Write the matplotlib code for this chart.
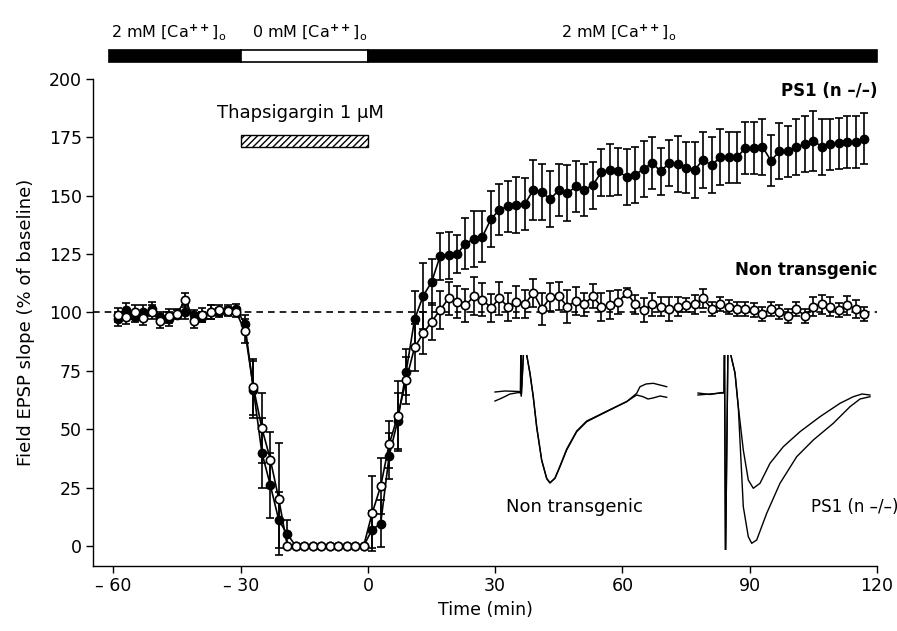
import matplotlib
matplotlib.use("Agg")
import matplotlib.pyplot as plt
import numpy as np
from matplotlib.patches import Rectangle

plt.rcParams["font.family"] = ["DejaVu Sans"]
plt.rcParams["mathtext.fontset"] = "dejavusans"

# sampling times (min), one point every 2 min
time = np.arange(-59, 118, 2)

# PS1 (n -/-) : filled circles
ps1 = [97, 101, 98, 100, 101.5, 98, 97, 99, 100, 99, 98, 100, 100, 101, 101.5,
       95, 67, 40, 26, 11, 5,
       0, 0, 0, 0, 0, 0, 0, 0, 0,
       7, 9.5, 38.5, 53.5, 74.5,
       97, 107, 113, 124, 124.5, 125, 129.5, 131.5, 132.5, 140, 144, 145.5, 146,
       146.5, 152.5, 151.5, 148.5, 152.5, 151, 154, 152.5, 154.5, 160, 161, 160.5,
       158, 159,
       161.5, 164, 160.5, 164, 163.5, 162, 161, 165.5, 163, 166.5, 166.5, 166.5,
       170.5, 170.5, 171, 165, 169, 169, 171, 172, 173.5, 171, 172, 172.5, 173,
       173, 174.5]
ps1_err = [3, 3, 2, 3, 3, 2, 3, 2, 3, 2, 2, 3, 2, 2, 2,
           4, 12, 15, 14, 12, 6,
           0, 0, 0, 0, 0, 0, 0, 0, 0,
           8, 10, 10, 12, 10,
           12, 14, 10, 10, 10, 8, 11, 12, 11, 12, 11, 11, 12, 11, 13, 12, 12,
           11, 12, 11, 11, 10, 10, 11, 10, 12, 12,
           12, 11, 10, 10, 12, 11, 12, 12, 12, 12, 11, 11, 11, 11, 12, 11, 12,
           11, 12, 12, 13, 12, 11, 11, 11, 11, 11]

# Non transgenic : open circles
nontg = [99, 98, 100, 97.5, 100, 96.5, 98.5, 99.5, 105.5, 96.5, 99, 100, 101, 100.5, 100,
         92, 68, 50.5, 37, 20, 0,
         0, 0, 0, 0, 0, 0, 0, 0, 0,
         14, 25.5, 43.5, 55.5, 71,
         85, 91, 96, 101, 106, 104.5, 103, 107, 105.5, 102, 106, 102.5, 104.5,
         103.5, 108.5, 101.5, 106.5, 107, 102.5, 105, 103.5, 107, 102.5, 103,
         104.5, 108.5, 103.5,
         101, 103.5, 102.5, 101.5, 102.5, 103, 103.5, 106, 101.5, 103.5, 102.5,
         101.5, 101.5, 101, 99.5, 101.5, 100, 98.5, 101.5, 98.5, 102.5, 103.5,
         102.5, 101, 103, 101.5, 99.5]
nontg_err = [3, 3, 3, 3, 3, 3, 3, 2, 3, 3, 3, 3, 2, 2, 2,
             5, 12, 15, 12, 24, 0,
             0, 0, 0, 0, 0, 0, 0, 0, 0,
             16, 12, 10, 15, 10,
             10, 9, 8, 8, 7, 7, 7, 8, 7, 6, 7, 6, 7, 6, 6, 7, 6, 6, 7, 6, 5, 5,
             6, 6, 5, 2, 4,
             5, 5, 4, 5, 4, 3, 4, 4, 3, 3, 3, 3, 3, 3, 3, 3, 3, 3, 3, 3, 4, 4,
             4, 3, 4, 4, 3]

# bath [Ca++] periods and drug application (min)
ca_start = [-61, -30, 0]
ca_end = [-30, 0, 120]
ca_color = ["black", "white", "black"]
ca_label_x = [-60.6, -27.4, 45.5]
ca_labels = [r"2 mM [Ca$^{\mathbf{++}}$]$_{\mathrm{o}}$",
             r"0 mM [Ca$^{\mathbf{++}}$]$_{\mathrm{o}}$",
             r"2 mM [Ca$^{\mathbf{++}}$]$_{\mathrm{o}}$"]
tg_start, tg_end = -30, 0

# example EPSP traces (arbitrary units, baseline = 0)
nt_x_a = [5, 15, 29, 30.5, 30.8, 31.3, 34, 36.7, 40, 43.3, 46.7, 51.7, 56.7, 60,
          65, 70, 76.7, 86.7, 96.7, 110, 123.3, 136.7, 146.7, 150, 156, 163.3, 170, 176.7]
nt_y_a = [1, 2, 1.5, 0, 45, -3, 50, 38, 20, -3.7, -33.7, -67, -85.3, -89.7,
          -85.3, -73.7, -57, -38.7, -28.7, -22, -15.3, -8.7, -0.3, 6.3, 9, 9.7, 8, 6.3]
nt_x_b = [5, 12, 20, 29, 30.5, 30.8, 31.3, 34, 36.7, 40, 43.3, 46.7, 51.7, 56.7, 60,
          65, 70, 76.7, 86.7, 96.7, 110, 123.3, 136.7, 146.7, 153, 158, 163, 170, 176.7]
nt_y_b = [-8, -5, -1, 0.5, 0, 45, -3, 50, 38, 19, -4.5, -34.5, -67.5, -85.8, -90,
          -85, -73, -56, -38, -28, -21.5, -15, -8.5, -2, -3.7, -6, -5, -3, -4.3]
ps_x_up = [208, 220, 232, 234, 234.5, 235.5, 238, 245, 248.3, 253.3, 258.3, 263.3,
           270, 280, 293.3, 310, 330, 350, 363.3, 372, 380]
ps_y_up = [-2, -1, 0, 0, 45, -170, 50, 20, -13.7, -57, -87, -95.3, -90.3, -70.3,
           -53.7, -38.7, -23.7, -10.3, -3.7, -1, -2]
ps_x_lo = [208, 220, 232, 234, 234.5, 235.5, 238, 245, 248.3, 253.3, 258.3, 261.7,
           266.7, 276.7, 290, 306.7, 323.3, 343.3, 360, 370, 380]
ps_y_lo = [0, -1.5, 0.5, 0, 45, -170, 50, 20, -14, -113.7, -143.7, -150.3, -147,
           -120.3, -90.3, -63.7, -47, -30.3, -13.7, -6, -3.7]

fig = plt.figure(figsize=(8.97, 6.31), dpi=100)
ax = fig.add_axes([93 / 897, 65 / 631, 784 / 897, 487 / 631])

ax.axhline(100, xmin=0, xmax=1, color="black", lw=1.2, ls=(0, (4, 3)), zorder=1)

ax.errorbar(time, ps1, yerr=ps1_err, fmt="-o", color="black", ms=6, lw=1.2,
            elinewidth=1.2, capsize=3, capthick=1.2, mfc="black", mec="black",
            zorder=3)
ax.errorbar(time, nontg, yerr=nontg_err, fmt="-o", color="black", ms=6, lw=1.2,
            elinewidth=1.2, capsize=3, capthick=1.2, mfc="white", mec="black",
            mew=1.2, zorder=4)

# [Ca++] bar above the axes
for s, e, c in zip(ca_start, ca_end, ca_color):
    ax.add_patch(Rectangle((s, 207.3), e - s, 5.1, facecolor=c, edgecolor="black",
                           lw=1.2, clip_on=False, zorder=5))
for x, lab in zip(ca_label_x, ca_labels):
    ax.text(x, 218, lab, ha="left", va="baseline", fontsize=11.5, clip_on=False)

# thapsigargin bar
plt.rcParams["hatch.linewidth"] = 1.0
ax.add_patch(Rectangle((tg_start, 171), tg_end - tg_start, 5, facecolor="white",
                       edgecolor="black", hatch="/////", lw=1.0))
ax.text(-16, 185.5, "Thapsigargin 1 \u00b5M", ha="center", va="center", fontsize=13)

ax.text(120, 195, "PS1 (n \u2013/\u2013)", ha="right", va="center", fontsize=12,
        fontweight="bold")
ax.text(120, 118, "Non transgenic", ha="right", va="center", fontsize=12,
        fontweight="bold")
ax.text(48.6, 16.5, "Non transgenic", ha="center", va="center", fontsize=13)
ax.text(104.5, 16.5, "PS1 (n \u2013/\u2013)", ha="left", va="center", fontsize=12,
        clip_on=False)

ax.set_xlim(-64.8, 120)
ax.set_ylim(-8.6, 200)
ax.set_xticks([-60, -30, 0, 30, 60, 90, 120])
ax.set_xticklabels(["\u2013 60", "\u2013 30", "0", "30", "60", "90", "120"])
ax.set_yticks(np.arange(0, 201, 25))
ax.spines["top"].set_visible(False)
ax.spines["right"].set_visible(False)
ax.spines["left"].set_bounds(-8.6, 200)
for sp in ("left", "bottom"):
    ax.spines[sp].set_linewidth(1.0)
ax.tick_params(direction="out", length=5, width=1.0, labelsize=12.5, pad=3)
ax.set_xlabel("Time (min)", fontsize=12.5, labelpad=4)
ax.set_ylabel("Field EPSP slope (% of baseline)", fontsize=13, labelpad=10)

# inset with example traces
ins = fig.add_axes([490 / 897, 81 / 631, 390 / 897, 195 / 631])
ins.plot(nt_x_a, nt_y_a, color="black", lw=1.0)
ins.plot(nt_x_b, nt_y_b, color="black", lw=1.0)
ins.plot(ps_x_up, ps_y_up, color="black", lw=1.0)
ins.plot(ps_x_lo, ps_y_lo, color="black", lw=1.0)
ins.set_xlim(0, 390)
ins.set_ylim(-157, 38)
ins.axis("off")

fig.savefig("out.png", dpi=100)
